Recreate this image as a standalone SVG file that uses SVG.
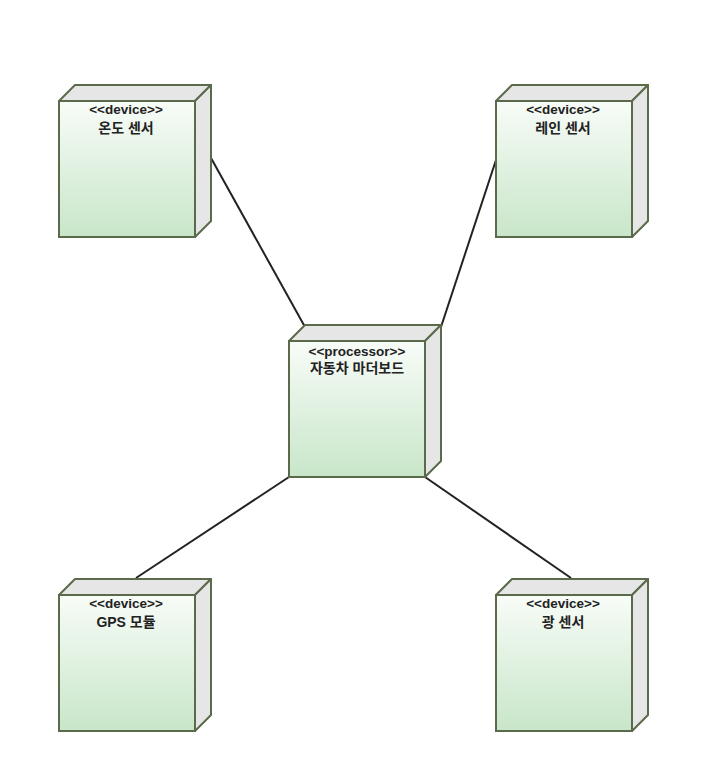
<svg xmlns="http://www.w3.org/2000/svg" width="726" height="780" viewBox="0 0 726 780">
<defs>
<linearGradient id="g" x1="0" y1="0" x2="0" y2="1">
<stop offset="0" stop-color="#f8fcf8"/>
<stop offset="1" stop-color="#c8e6c9"/>
</linearGradient>
<style>
.side{fill:#e6e6e6;stroke:#5b6a4a;stroke-width:2;stroke-linejoin:round}
.front{fill:url(#g);stroke:#5b6a4a;stroke-width:2}
.st{font-family:"Liberation Sans",Arial,sans-serif;font-size:13.5px;font-weight:bold;fill:#222;text-anchor:middle}
.lb{font-family:"Liberation Sans","Noto Sans CJK KR",sans-serif;font-size:14px;font-weight:bold;fill:#222;text-anchor:middle}
.edge{stroke:#222;stroke-width:2;fill:none}
</style>
</defs>
<rect width="726" height="780" fill="#fff"/>
<g id="connectors">
<line class="edge" x1="211" y1="158" x2="305" y2="327"/>
<line class="edge" x1="496" y1="160" x2="441" y2="327"/>
<line class="edge" x1="289" y1="477" x2="136" y2="578"/>
<line class="edge" x1="425" y1="477" x2="571" y2="578"/>
</g>
<g id="temp">
<path class="side" d="M59 101 L75 85 L211 85 L195 101 Z"/>
<path class="side" d="M195 101 L211 85 L211 221 L195 237 Z"/>
<rect class="front" x="59" y="101" width="136" height="136"/>
<text class="st" x="126" y="114">&lt;&lt;device&gt;&gt;</text>
<text class="lb" x="126" y="133">온도 센서</text>
</g>
<g id="rain">
<path class="side" d="M496 101 L512 85 L648 85 L632 101 Z"/>
<path class="side" d="M632 101 L648 85 L648 221 L632 237 Z"/>
<rect class="front" x="496" y="101" width="136" height="136"/>
<text class="st" x="563" y="114">&lt;&lt;device&gt;&gt;</text>
<text class="lb" x="563" y="133">레인 센서</text>
</g>
<g id="processor">
<path class="side" d="M289 341 L305 325 L441 325 L425 341 Z"/>
<path class="side" d="M425 341 L441 325 L441 461 L425 477 Z"/>
<rect class="front" x="289" y="341" width="136" height="136"/>
<text class="st" x="357" y="356">&lt;&lt;processor&gt;&gt;</text>
<text class="lb" x="357" y="373">자동차 마더보드</text>
</g>
<g id="gps">
<path class="side" d="M59 595 L75 579 L211 579 L195 595 Z"/>
<path class="side" d="M195 595 L211 579 L211 715 L195 731 Z"/>
<rect class="front" x="59" y="595" width="136" height="136"/>
<text class="st" x="126" y="608">&lt;&lt;device&gt;&gt;</text>
<text class="lb" x="126" y="627">GPS 모듈</text>
</g>
<g id="light">
<path class="side" d="M496 595 L512 579 L648 579 L632 595 Z"/>
<path class="side" d="M632 595 L648 579 L648 715 L632 731 Z"/>
<rect class="front" x="496" y="595" width="136" height="136"/>
<text class="st" x="563" y="608">&lt;&lt;device&gt;&gt;</text>
<text class="lb" x="563" y="627">광 센서</text>
</g>
</svg>
